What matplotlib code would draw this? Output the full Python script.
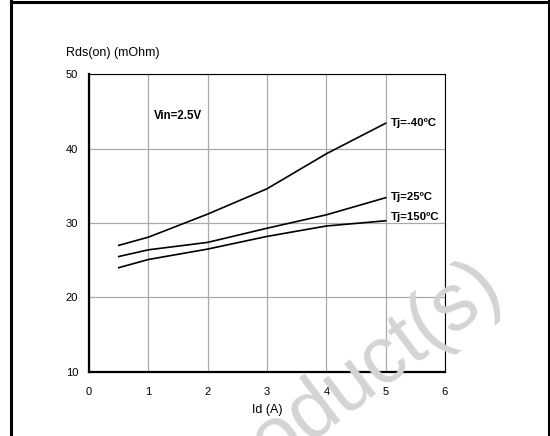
import matplotlib.pyplot as plt
from matplotlib.lines import Line2D

plt.rcParams['font.family'] = ['Liberation Sans', 'DejaVu Sans']

# Rds(on) vs Id at Vin=2.5V
id_a = [0.5, 1, 2, 3, 4, 5]
rds_m40 = [27.0, 28.1, 31.2, 34.6, 39.3, 43.4]
rds_25 = [25.5, 26.4, 27.4, 29.3, 31.1, 33.4]
rds_150 = [24.0, 25.1, 26.5, 28.2, 29.6, 30.3]

curve_labels = ['Tj=-40ºC', 'Tj=25ºC', 'Tj=150ºC']
label_y = [43.4, 33.5, 30.8]

fig = plt.figure(figsize=(5.5, 4.36), dpi=100)
ax = fig.add_axes([0.162, 0.147, 0.647, 0.683])

for ys in (rds_m40, rds_25, rds_150):
    ax.plot(id_a, ys, color='black', lw=1.2, zorder=3)

for lab, y in zip(curve_labels, label_y):
    ax.text(5.08, y, lab, fontsize=8.2, fontweight='bold', va='center', ha='left')

ax.text(1.1, 44.4, 'Vin=2.5V', fontsize=8.3, fontweight='bold', va='center', ha='left')

ax.set_xlim(0, 6)
ax.set_ylim(10, 50)
ax.set_xticks(range(0, 7))
ax.set_yticks(range(10, 51, 10))
ax.tick_params(length=0, labelsize=8)
ax.tick_params(axis='x', pad=11)
ax.tick_params(axis='y', pad=8)
ax.grid(True, color='#aaaaaa', lw=0.9)

ax.spines['left'].set_linewidth(1.6)
ax.spines['bottom'].set_linewidth(1.6)
ax.spines['top'].set_linewidth(0.8)
ax.spines['right'].set_linewidth(0.8)

ax.set_xlabel('Id (A)', fontsize=9, labelpad=5)
fig.text(66 / 550, 1 - 53 / 436, 'Rds(on) (mOhm)', fontsize=9, ha='left', va='center')

# page frame
fig.add_artist(Line2D([11 / 550, 11 / 550], [0, 1], color='black', lw=2.2))
fig.add_artist(Line2D([11 / 550, 548.5 / 550], [1 - 2.5 / 436, 1 - 2.5 / 436], color='black', lw=2.2))
fig.add_artist(Line2D([548.5 / 550, 548.5 / 550], [0, 1], color='black', lw=1.5))

# watermark
fig.text(505 / 550, 1 - 292 / 436, 'Product(s)', fontsize=58, color='#d4d4d4',
         rotation=37, rotation_mode='anchor', ha='right', va='baseline', zorder=5)

fig.savefig('out.png', dpi=100)
